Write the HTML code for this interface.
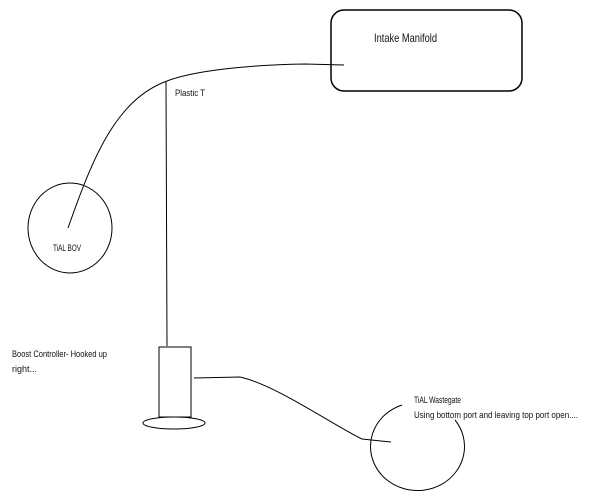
<!DOCTYPE html>
<html><head><style>
body{margin:0;background:#fff}
svg{display:block}
text{font-family:"Liberation Sans",sans-serif;fill:#111}
</style></head><body>
<svg width="604" height="502" viewBox="0 0 604 502">
<rect x="331" y="10" width="191" height="81" rx="13" fill="none" stroke="#000" stroke-width="1.5"/>
<text x="374" y="42" font-size="12" textLength="63" lengthAdjust="spacingAndGlyphs">Intake Manifold</text>
<path d="M344,65 L305,64 C240,65 190,72 167,81 C115,100 92,160 68,228" fill="none" stroke="#000" stroke-width="1"/>
<line x1="166" y1="81" x2="167" y2="346" stroke="#000" stroke-width="1"/>
<text x="175" y="96" font-size="9" textLength="30" lengthAdjust="spacingAndGlyphs">Plastic T</text>
<ellipse cx="70" cy="228" rx="42" ry="45" fill="none" stroke="#000" stroke-width="1"/>
<text x="53" y="251" font-size="9" textLength="28" lengthAdjust="spacingAndGlyphs">TiAL BOV</text>
<rect x="159" y="347" width="32" height="70" fill="none" stroke="#000" stroke-width="1"/>
<ellipse cx="174" cy="423" rx="31" ry="6" fill="none" stroke="#000" stroke-width="1"/>
<text x="12" y="357" font-size="9" textLength="95" lengthAdjust="spacingAndGlyphs">Boost Controller- Hooked up</text>
<text x="12" y="372" font-size="9" textLength="25" lengthAdjust="spacingAndGlyphs">right...</text>
<path d="M194,378 L240,377 C276,385 333,425 362,439 L391,442" fill="none" stroke="#000" stroke-width="1"/>
<path d="M402,405 A47,44 0 1 0 455,420" fill="none" stroke="#000" stroke-width="1"/>
<text x="414" y="403" font-size="9" textLength="47" lengthAdjust="spacingAndGlyphs">TiAL Wastegate</text>
<text x="414" y="418" font-size="9" textLength="164" lengthAdjust="spacingAndGlyphs">Using bottom port and leaving top port open....</text>
</svg>
</body></html>
